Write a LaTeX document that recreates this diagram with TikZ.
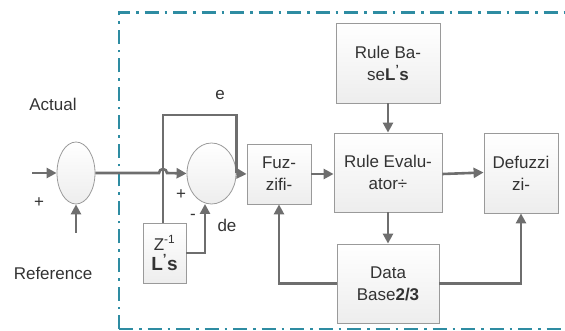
\documentclass[tikz,border=0pt]{standalone}
\usepackage{fontspec}
\setmainfont{Liberation Sans}
\usetikzlibrary{shapes.geometric,arrows.meta}
\definecolor{lc}{HTML}{6E6E6E}
\definecolor{bc}{HTML}{9A9A9A}
\definecolor{tealc}{HTML}{2E8CA2}
\begin{document}
\begin{tikzpicture}[x=1pt,y=-1pt,
  every node/.style={font=\fontsize{17}{22}\selectfont, text=black!80},
  blk/.style={draw=bc, line width=0.8pt, top color=white, bottom color=gray!14, align=center, inner sep=0pt},
  sumel/.style={ellipse, draw=bc, line width=0.8pt, top color=white, bottom color=gray!14, inner sep=0pt},
  conn/.style={draw=lc, line width=2.6pt},
  arr/.style={conn, -{Triangle[length=10pt,width=10pt]}},
  lbl/.style={inner sep=0pt},
  frame/.style={draw=tealc, line width=2.8pt, dash pattern=on 14pt off 6pt on 2.5pt off 6pt}
]
\useasboundingbox (0,0) rectangle (565,331);
% frame
\draw[frame] (119,329) -- (119,12.5) -- (570,12.5);
\draw[frame] (119,329) -- (570,329);

% nodes
\node[sumel, minimum width=38pt, minimum height=62pt] (e1) at (76,173) {};
\node[sumel, minimum width=49pt, minimum height=61pt] (e2) at (211.5,173.5) {};
\node[blk, minimum width=43pt, minimum height=60pt] (z) at (164.5,253) {Z\textsuperscript{-1}\\[-2pt]\textbf{\fontsize{19}{22}\selectfont L\textsuperscript{'}s}};
\node[blk, minimum width=64pt, minimum height=60pt] (fz) at (279,174) {Fuz-\\zifi-};
\node[blk, minimum width=104pt, minimum height=80pt] (rb) at (388,63) {Rule Ba-\\se\textbf{L\textsuperscript{'}s}};
\node[blk, minimum width=108pt, minimum height=79pt] (ev) at (388,172.5) {Rule Evalu-\\ator÷};
\node[blk, minimum width=74pt, minimum height=80pt] (df) at (521,173) {Defuzzi\\zi-};
\node[blk, minimum width=102pt, minimum height=79pt] (db) at (388,283.5) {Data\\Base\textbf{2/3}};

% labels
\node[lbl] (lact) at (53,104) {Actual};
\node[lbl] (lref) at (53,273) {Reference};
\node[lbl] (lp1) at (39,203) {+};
\node[lbl] (le) at (220,95) {e};
\node[lbl] (lp2) at (181,195) {+};
\node[lbl] (lm) at (193,217) {-};
\node[lbl] (lde) at (227,225) {de};

% coordinates
\coordinate (in1) at (32,173);
\coordinate (in2) at (76,233);
\coordinate (hop) at (159,173);
\coordinate (etop) at (163,115);
\coordinate (dej) at (205,253);
\coordinate (dee) at (205,204);

% connectors
\draw[arr] (in1) -- (e1.west);
\draw[arr] (in2) -- (e1.south);
\draw[arr] (e1.east) -- (hop) arc[start angle=180, end angle=0, radius=4pt] -- (e2.west);
\draw[conn] (z.north -| etop) -- (etop) -| (e2.east);
\draw[arr] (e2.east) -- (fz.west);
\draw[arr] (z.east |- dej) -- (dej) -- (dee);
\draw[arr] (fz.east) -- (fz.east -| ev.west);
\draw[arr] (rb.south) -- (ev.north);
\draw[arr] (ev.south) -- (db.north);
\draw[arr] (ev.east |- fz.east) -- (ev.east -| df.west);
\draw[arr] (db.west) -| (fz.south);
\draw[arr] (db.east) -| (df.south);
\end{tikzpicture}
\end{document}
